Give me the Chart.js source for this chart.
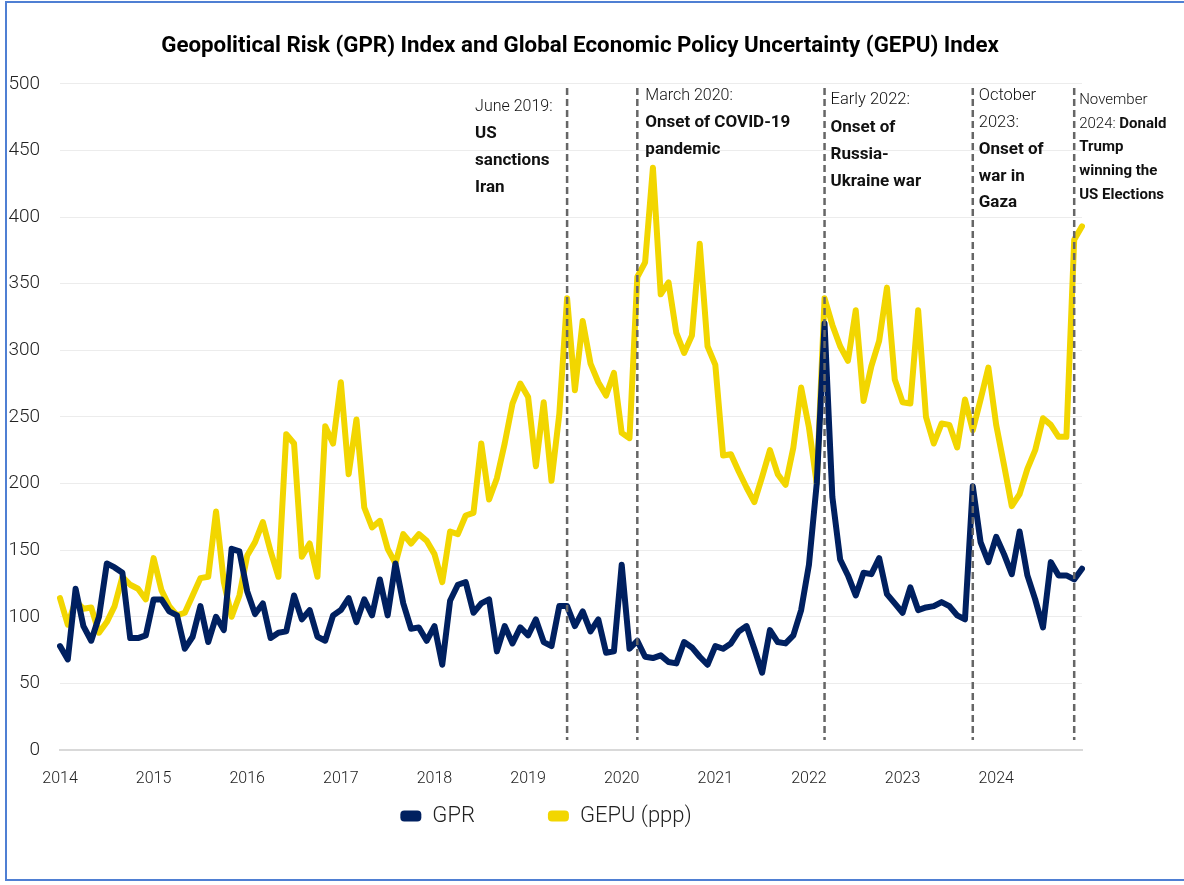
<!DOCTYPE html>
<html>
<head>
<meta charset="utf-8">
<script src="https://cdn.jsdelivr.net/npm/chart.js@4.4.1/dist/chart.umd.min.js"></script>
<style>
  body { margin: 0; background: #fff; }
  #wrap { position: relative; width: 1184px; height: 885px; overflow: hidden; }
  #frame { position: absolute; left: 5px; top: 1px; width: 1200px; height: 876px; border: 2px solid #4f7fd3; }
  #myChart { position: absolute; left: 0; top: 0; }
</style>
</head>
<body>
<div id="wrap">
  <div id="frame"></div>
  <canvas id="myChart" width="1184" height="885"></canvas>
</div>
<script>
var boldFace = "Roboto, 'Open Sans', sans-serif";
var light = "Roboto, 'Open Sans', sans-serif";

var years = ['2014', '2015', '2016', '2017', '2018', '2019', '2020', '2021', '2022', '2023', '2024'];
var months = [];
years.forEach(function (y) {
  for (var m = 1; m <= 12; m++) months.push(y + '-' + (m < 10 ? '0' + m : m));
});

// monthly index values, Jan 2014 - Dec 2024
var gpr = [
  78, 68, 121, 93, 82, 100, 140, 137, 133, 84, 84, 86,
  113, 113, 104, 101, 76, 85, 108, 81, 100, 90, 151, 149,
  119, 102, 110, 84, 88, 89, 116, 98, 105, 85, 82, 101,
  105, 114, 96, 113, 101, 128, 101, 140, 110, 91, 92, 82,
  93, 64, 112, 124, 126, 103, 110, 113, 74, 93, 80, 92,
  86, 98, 81, 78, 108, 108, 93, 104, 89, 98, 73, 74,
  139, 76, 82, 70, 69, 71, 66, 65, 81, 77, 70, 64,
  78, 76, 80, 89, 93, 76, 58, 90, 81, 80, 86, 105,
  139, 200, 320, 190, 143, 131, 116, 133, 132, 144, 117, 110,
  103, 122, 105, 107, 108, 111, 108, 101, 98, 198, 156, 141,
  160, 147, 132, 164, 131, 113, 92, 141, 131, 131, 128, 136
];

var gepu = [
  114, 94, 112, 106, 107, 88, 96, 108, 130, 124, 121, 113,
  144, 120, 108, 101, 103, 116, 129, 130, 179, 126, 100, 116,
  146, 156, 171, 149, 130, 237, 230, 145, 155, 130, 243, 230,
  276, 207, 248, 182, 167, 172, 151, 140, 162, 155, 162, 157,
  147, 126, 164, 162, 176, 178, 230, 188, 204, 230, 260, 275,
  265, 213, 261, 202, 252, 339, 270, 322, 290, 276, 266, 283,
  238, 234, 355, 366, 437, 342, 351, 313, 298, 311, 380, 303,
  289, 221, 222, 209, 197, 186, 205, 225, 207, 199, 227, 272,
  242, 200, 339, 319, 303, 292, 330, 262, 288, 307, 347, 278,
  261, 260, 330, 250, 230, 245, 244, 227, 263, 240, 263, 287,
  244, 214, 183, 192, 211, 225, 249, 244, 235, 235, 383, 393
];

var eventMonths = ['2019-06', '2020-03', '2022-03', '2023-10', '2024-11'];
// each note line is a list of [text, bold]
var eventNotes = [
  [[['June 2019:', 0]], [['US', 1]], [['sanctions', 1]], [['Iran', 1]]],
  [[['March 2020:', 0]], [['Onset of COVID-19', 1]], [['pandemic', 1]]],
  [[['Early 2022:', 0]], [['Onset of', 1]], [['Russia-', 1]], [['Ukraine war', 1]]],
  [[['October', 0]], [['2023:', 0]], [['Onset of', 1]], [['war in', 1]], [['Gaza', 1]]],
  [[['November', 0]], [['2024: ', 0], ['Donald', 1]], [['Trump', 1]], [['winning the', 1]], [['US Elections', 1]]]
];

var noteLayout = [
  { dx: -92, top: 107, lh: 27, light: 16, bold: 17 },
  { dx: 8, top: 96, lh: 27, light: 16, bold: 17 },
  { dx: 6, top: 100, lh: 27.4, light: 16.5, bold: 17 },
  { dx: 6, top: 96, lh: 26.8, light: 16.5, bold: 17 },
  { dx: 5, top: 100, lh: 23.8, light: 15, bold: 15 }
];

var eventLines = {
  id: 'eventLines',
  afterDatasetsDraw: function (chart) {
    var c = chart.ctx;
    var xs = chart.scales.x;
    c.save();
    eventMonths.forEach(function (m, k) {
      var px = xs.getPixelForValue(months.indexOf(m));
      c.beginPath();
      c.setLineDash([7, 4]);
      c.lineWidth = 2.5;
      c.strokeStyle = '#666666';
      c.moveTo(px, 88);
      c.lineTo(px, 740);
      c.stroke();

      var lay = noteLayout[k];
      c.setLineDash([]);
      c.textBaseline = 'middle';
      c.textAlign = 'left';
      c.fillStyle = '#111111';
      eventNotes[k].forEach(function (line, j) {
        var tx = px + lay.dx;
        line.forEach(function (part) {
          c.font = part[1] ? 'bold ' + lay.bold + 'px ' + boldFace : '300 ' + lay.light + 'px ' + light;
          c.fillText(part[0], tx, lay.top + j * lay.lh);
          tx += c.measureText(part[0]).width;
        });
      });
    });
    c.restore();
  }
};

// legend sits left of centre, close under the year labels
var legendNudge = {
  id: 'legendNudge',
  afterLayout: function (chart) {
    var lg = chart.legend;
    lg.left -= 34; lg.right -= 34;
    lg.top -= 63;
  }
};

var myChart = new Chart(document.getElementById('myChart').getContext('2d'), {
  type: 'line',
  data: {
    labels: months,
    datasets: [{
      label: 'GPR',
      data: gpr,
      borderColor: '#002060',
      backgroundColor: '#002060',
      borderWidth: 6,
      pointRadius: 0,
      borderJoinStyle: 'round',
      borderCapStyle: 'round',
      tension: 0
    }, {
      label: 'GEPU (ppp)',
      data: gepu,
      borderColor: '#f2d600',
      backgroundColor: '#f2d600',
      borderWidth: 6,
      pointRadius: 0,
      borderJoinStyle: 'round',
      borderCapStyle: 'round',
      tension: 0
    }]
  },
  options: {
    responsive: false,
    animation: false,
    layout: { padding: { top: 0, left: 0, right: 24, bottom: 47 } },
    plugins: {
      title: {
        display: true,
        text: 'Geopolitical Risk (GPR) Index and Global Economic Policy Uncertainty (GEPU) Index',
        color: '#000',
        font: { family: boldFace, size: 22.3, weight: 'bold', lineHeight: 1.2 },
        padding: { top: 33, bottom: 24 }
      },
      legend: {
        position: 'bottom',
        maxHeight: 43,
        labels: {
          color: '#222',
          font: { family: light, size: 22, weight: '300' },
          boxWidth: 21,
          boxHeight: 11,
          useBorderRadius: true,
          borderRadius: 4,
          padding: 73,
          generateLabels: function (chart) {
            var items = Chart.defaults.plugins.legend.labels.generateLabels(chart);
            items.forEach(function (it) { it.lineWidth = 0; });
            return items;
          }
        }
      },
      tooltip: { enabled: false }
    },
    scales: {
      x: {
        grid: { display: false, drawTicks: false },
        border: { color: '#d9d9d9', width: 2 },
        ticks: {
          autoSkip: false,
          maxRotation: 0,
          padding: 19,
          color: '#222',
          font: { family: light, size: 16, weight: '300' },
          callback: function (v, i) { return i % 12 === 0 ? years[i / 12] : ''; }
        },
        afterFit: function (s) { s.height = 45; }
      },
      y: {
        min: 0,
        max: 500,
        grid: { color: '#ececec', drawTicks: false },
        border: { display: false },
        ticks: {
          stepSize: 50,
          padding: 20,
          color: '#222',
          font: { family: light, size: 19, weight: '300' }
        },
        afterFit: function (s) { s.width = 60; }
      },
      yRight: {
        position: 'right',
        grid: { display: false },
        border: { display: false },
        ticks: { display: false },
        afterFit: function (s) { s.width = 78; }
      }
    }
  },
  plugins: [eventLines, legendNudge]
});
</script>
</body>
</html>
